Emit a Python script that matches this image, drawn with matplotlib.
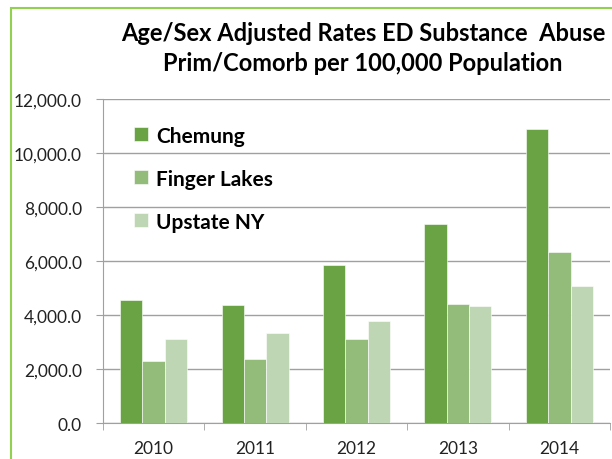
import numpy as np
import matplotlib.pyplot as plt
from matplotlib.patches import Rectangle
from matplotlib.ticker import FuncFormatter, FixedLocator

years = ["2010", "2011", "2012", "2013", "2014"]
chemung = [4570, 4370, 5840, 7380, 10870]
finger_lakes = [2310, 2380, 3130, 4400, 6330]
upstate_ny = [3130, 3320, 3790, 4330, 5080]

series = [("Chemung", chemung, "#6aa343"),
          ("Finger Lakes", finger_lakes, "#93bb7a"),
          ("Upstate NY", upstate_ny, "#bfd6b4")]

plt.rcParams['font.family'] = ['Lato', 'DejaVu Sans']

fig = plt.figure(figsize=(6.12, 4.6), dpi=100)
ax = fig.add_axes([0.168, 0.078, 0.829, 0.705])

x = np.arange(len(years))
w = 0.22
for i, (name, vals, col) in enumerate(series):
  ax.bar(x + (i - 1) * w, vals, width=w, color=col, edgecolor="white",
         linewidth=0.4, label=name, zorder=3)

ax.set_xlim(-0.5, len(years) - 0.5)
ax.set_ylim(0, 12000)
ax.set_yticks(np.arange(0, 12001, 2000))
ax.yaxis.set_major_formatter(FuncFormatter(lambda v, p: f"{v:,.1f}"))
ax.set_xticks(x)
ax.set_xticklabels(years)
ax.xaxis.set_minor_locator(FixedLocator(np.arange(-0.5, len(years), 1.0)))
ax.tick_params(axis="x", which="major", length=0, pad=12, labelsize=12.5, colors="#222222")
ax.tick_params(axis="x", which="minor", length=5, color="#a0a0a0", direction="out")
ax.tick_params(axis="y", length=5, color="#a0a0a0", labelsize=12.5, colors="#222222", pad=10)
ax.grid(axis="y", color="#a0a0a0", linewidth=1.0, zorder=0)
for s in ["top", "right"]:
  ax.spines[s].set_visible(False)
for s in ["left", "bottom"]:
  ax.spines[s].set_color("#a0a0a0")

leg = ax.legend(loc="upper left", bbox_to_anchor=(0.025, 0.975), frameon=False,
                prop={"weight": "bold", "size": 15}, handlelength=0.65,
                handleheight=0.65, handletextpad=0.4, labelspacing=1.1)

fig.text(0.593, 0.928, "Age/Sex Adjusted Rates ED Substance  Abuse",
         ha="center", va="center", fontsize=17, fontweight="bold")
fig.text(0.593, 0.862, "Prim/Comorb per 100,000 Population",
         ha="center", va="center", fontsize=17, fontweight="bold")

fig.patches.append(Rectangle((0.018, -0.1), 1.2, 1.08, transform=fig.transFigure,
                             fill=False, edgecolor="#92d050", linewidth=1.5))

fig.savefig("out.png", dpi=100)
